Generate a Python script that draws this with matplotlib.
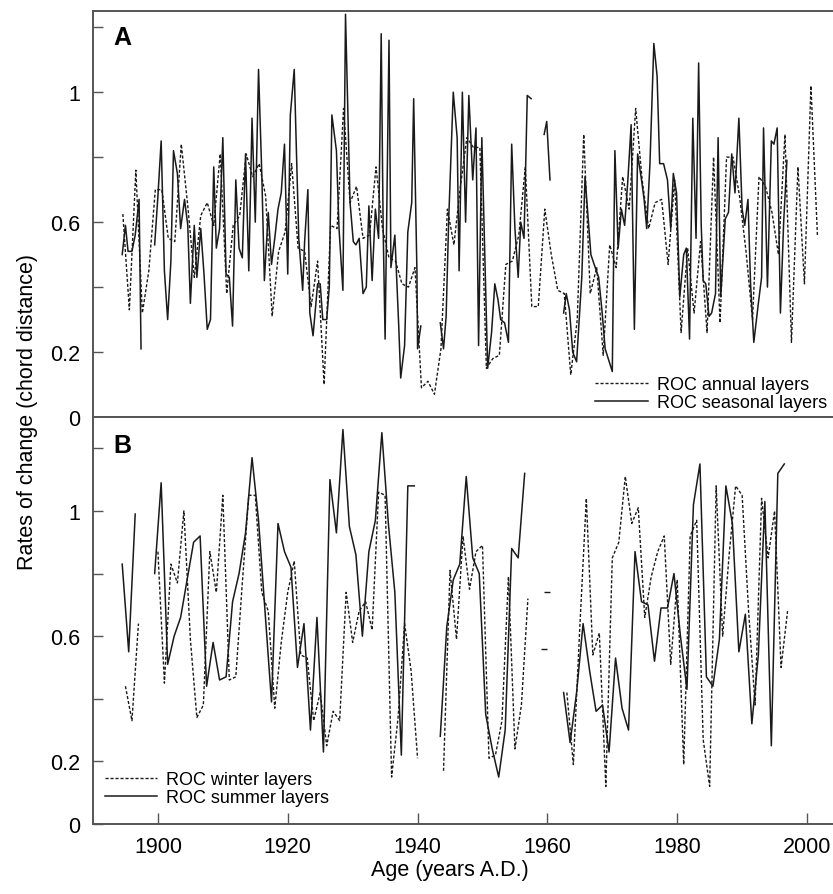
import numpy as np
import matplotlib
matplotlib.use('Agg')
import matplotlib.pyplot as plt

plt.rcParams['font.family'] = ['Liberation Sans', 'DejaVu Sans']

nan = np.nan

# Panel A - annual layers (one value per year, starting 1894.6)
annual_start = 1894.6
annual_a = [0.625, 0.33, 0.76, 0.32, 0.45, 0.70, 0.70, 0.55, 0.54, 0.84,
            0.65, 0.43, 0.62, 0.66, 0.59, 0.81, 0.38, 0.59, 0.62, 0.81,
            0.74, 0.78, 0.68, 0.31, 0.51, 0.57, 0.78, 0.52, 0.51, 0.34,
            0.48, 0.10, 0.59, 0.58, 0.95, 0.66, 0.71, 0.55, 0.56, 0.77,
            0.58, 0.49, 0.48, 0.41, 0.40, 0.46, 0.09, 0.11, 0.07, 0.21,
            0.64, 0.53, 0.71, 0.86, 0.83, 0.83, 0.15, 0.18, 0.19, 0.47,
            0.48, 0.56, 0.77, 0.34, 0.34, 0.64, 0.50, 0.39, 0.38, 0.13,
            0.30, 0.87, 0.38, 0.46, 0.19, 0.53, 0.46, 0.74, 0.64, 0.95,
            0.73, 0.58, 0.66, 0.67, 0.47, 0.73, 0.26, 0.52, 0.32, 0.54,
            0.26, 0.80, 0.29, 0.80, 0.80, 0.68, 0.51, 0.30, 0.74, 0.71,
            0.63, 0.50, 0.87, 0.23, 0.77, 0.41, 1.02, 0.56]

# Panel A - seasonal layers (read positions, nan = gap)
seasonal_a_x = [1894.5, 1895.0, 1895.4, 1896.0, 1896.5, 1897.1, 1897.4, 1898.5,
                1899.5, 1900.0, 1900.5, 1901.0, 1901.5, 1902.0, 1902.4, 1903.0, 1903.5, 1904.1,
                1904.6, 1905.0, 1905.6, 1906.0, 1906.6, 1907.1, 1907.6, 1908.1, 1908.6, 1909.0,
                1909.5, 1910.0, 1910.5, 1911.0, 1911.5, 1912.0, 1912.5, 1913.0, 1913.5, 1914.0,
                1914.5, 1915.0, 1915.5, 1916.0, 1916.4, 1917.0, 1917.5, 1918.0, 1918.5, 1919.0,
                1919.5, 1920.0, 1920.4, 1921.0, 1921.7, 1922.3, 1922.6, 1923.1, 1923.4, 1923.9,
                1924.6, 1925.0, 1925.4, 1926.0, 1926.4, 1926.8, 1927.5, 1927.9, 1928.5, 1928.9,
                1929.6, 1930.1, 1930.5, 1931.0, 1931.6, 1932.1, 1932.5, 1933.0, 1933.5, 1934.0,
                1934.4, 1934.7, 1935.0, 1935.6, 1935.9, 1936.5, 1937.1, 1937.4, 1938.0, 1938.5,
                1939.1, 1939.4, 1939.9, 1940.0, 1940.5, 1942.0,
                1943.5, 1944.0, 1944.4, 1944.8, 1945.5, 1946.1, 1946.4, 1946.9, 1947.4, 1947.9,
                1948.5, 1949.0, 1949.4, 1949.9, 1950.8, 1951.4, 1951.9, 1952.4, 1952.8, 1953.4,
                1954.0, 1954.5, 1955.0, 1955.5, 1955.9, 1956.4, 1956.9, 1957.5, 1958.5,
                1959.5, 1959.9, 1960.4, 1961.5,
                1962.5, 1962.9, 1963.4, 1963.9, 1964.5, 1965.3, 1965.8, 1966.7, 1967.2, 1967.9,
                1968.4, 1968.9, 1970.0, 1970.4, 1970.9, 1971.4, 1971.9, 1972.4, 1972.9, 1973.4,
                1973.9, 1974.5, 1974.9, 1975.3, 1975.8, 1976.4, 1976.9, 1977.3, 1977.9, 1978.5,
                1979.0, 1979.4, 1979.9, 1980.4, 1981.0, 1981.4, 1981.9, 1982.4, 1982.9, 1983.3,
                1983.7, 1984.0, 1984.4, 1984.9, 1985.3, 1985.9, 1986.3, 1986.7, 1987.4, 1987.9,
                1988.4, 1988.9, 1989.5, 1990.0, 1990.4, 1990.9, 1991.3, 1991.8, 1992.5, 1993.0,
                1993.3, 1993.9, 1994.5, 1994.9, 1995.4, 1995.9, 1996.4, 1996.9]
seasonal_a = [0.50, 0.59, 0.51, 0.51, 0.56, 0.67, 0.21, nan,
              0.53, 0.68, 0.85, 0.45, 0.30, 0.48, 0.82, 0.75, 0.58, 0.67,
              0.59, 0.35, 0.59, 0.43, 0.58, 0.44, 0.27, 0.30, 0.77, 0.52,
              0.58, 0.86, 0.44, 0.43, 0.28, 0.73, 0.52, 0.49, 0.81, 0.45,
              0.92, 0.60, 1.07, 0.75, 0.42, 0.63, 0.47, 0.55, 0.64, 0.69,
              0.84, 0.44, 0.93, 1.07, 0.55, 0.39, 0.54, 0.70, 0.32, 0.25,
              0.41, 0.41, 0.30, 0.30, 0.40, 0.93, 0.82, 0.58, 0.39, 1.24,
              0.66, 0.54, 0.53, 0.55, 0.38, 0.40, 0.65, 0.42, 0.64, 0.55,
              1.18, 0.58, 0.24, 1.16, 0.46, 0.56, 0.28, 0.12, 0.22, 0.57,
              0.66, 0.98, 0.45, 0.21, 0.28, nan,
              0.29, 0.21, 0.31, 0.61, 1.00, 0.86, 0.45, 1.00, 0.60, 0.99,
              0.73, 0.89, 0.22, 0.86, 0.15, 0.26, 0.41, 0.36, 0.30, 0.29,
              0.23, 0.84, 0.58, 0.43, 0.60, 0.55, 0.99, 0.98, nan,
              0.87, 0.91, 0.73, nan,
              0.32, 0.38, 0.33, 0.20, 0.17, 0.43, 0.74, 0.50, 0.47, 0.43,
              0.33, 0.21, 0.14, 0.82, 0.52, 0.64, 0.59, 0.73, 0.90, 0.27,
              0.81, 0.73, 0.67, 0.58, 0.78, 1.15, 1.05, 0.78, 0.78, 0.73,
              0.58, 0.75, 0.69, 0.37, 0.50, 0.52, 0.24, 0.92, 0.55, 1.09,
              0.59, 0.42, 0.41, 0.31, 0.32, 0.38, 0.86, 0.37, 0.61, 0.63,
              0.81, 0.69, 0.92, 0.64, 0.59, 0.67, 0.41, 0.23, 0.35, 0.43,
              0.89, 0.40, 0.85, 0.84, 0.89, 0.32, 0.60, 0.79]

# Panel B - winter layers (1895..1997) and summer layers (1894.5..1996.5)
winter_start = 1895.0
winter_b = [0.44, 0.33, 0.64, nan, nan, 0.87, 0.45, 0.83, 0.77, 1.00,
            0.59, 0.34, 0.38, 0.87, 0.74, 1.05, 0.46, 0.47, 0.77, 1.05,
            1.05, 0.74, 0.68, 0.37, 0.58, 0.74, 0.84, 0.54, 0.53, 0.33,
            0.42, 0.25, 0.36, 0.33, 0.74, 0.58, 0.68, 0.71, 0.62, 1.06,
            1.05, 0.15, 0.34, 0.64, 0.49, 0.21, nan, nan, nan, 0.17,
            0.81, 0.59, 0.92, 0.75, 0.87, 0.89, 0.21, 0.22, 0.33, 0.79,
            0.24, 0.38, 0.72, nan, nan, 0.74, nan, nan, 0.42, 0.19,
            0.63, 1.04, 0.54, 0.61, 0.12, 0.85, 0.90, 1.11, 0.96, 1.01,
            0.66, 0.79, 0.87, 0.92, 0.51, 0.78, 0.19, 0.92, 0.97, 0.27,
            0.12, 1.08, 0.60, 0.86, 1.08, 1.05, 0.68, 0.38, 1.04, 0.85,
            1.00, 0.50, 0.68]
summer_start = 1894.5
summer_b = [0.83, 0.55, 0.99, nan, nan, 0.80, 1.09, 0.51, 0.60, 0.66,
            0.78, 0.90, 0.92, 0.44, 0.58, 0.46, 0.47, 0.71, 0.80, 0.93,
            1.17, 0.97, 0.68, 0.39, 0.96, 0.87, 0.82, 0.50, 0.64, 0.30,
            0.66, 0.23, 1.10, 0.93, 1.26, 0.95, 0.86, 0.60, 0.87, 0.97,
            1.25, 0.96, 0.74, 0.22, 1.08, 1.08, nan, nan, nan, 0.28,
            0.63, 0.78, 0.83, 1.11, 0.85, 0.80, 0.35, 0.24, 0.15, 0.30,
            0.88, 0.85, 1.12, nan, nan, 0.56, nan, nan, 0.42, 0.26,
            0.42, 0.64, 0.49, 0.36, 0.38, 0.23, 0.53, 0.37, 0.30, 0.87,
            0.71, 0.70, 0.52, 0.69, 0.69, 0.80, 0.60, 0.43, 1.02, 1.15,
            0.47, 0.44, 0.59, 1.08, 0.96, 0.55, 0.67, 0.32, 0.54, 1.03,
            0.25, 1.12, 1.15]

y_ticks = [0, 0.2, 0.4, 0.6, 0.8, 1.0, 1.2]
y_ticklabels = ['0', '0.2', '', '0.6', '', '1', '']
x_ticks = [1900, 1920, 1940, 1960, 1980, 2000]

LINE = '#1a1a1a'
SPINE = '#555555'
DASH = (0, (2.2, 1.4))


def draw_series(ax, x, y, ls, lw, label):
    x = np.asarray(x, dtype=float)
    y = np.asarray(y, dtype=float)
    ax.plot(x, y, color=LINE, linestyle=ls, linewidth=lw, label=label)
    # single points between gaps get a tiny tick so they stay visible
    ok = np.isfinite(y)
    prev_ok = np.r_[False, ok[:-1]]
    next_ok = np.r_[ok[1:], False]
    lone = ok & ~prev_ok & ~next_ok
    if lone.any():
        ax.plot(x[lone], y[lone], linestyle='none', marker='_',
                markersize=4, color=LINE, markeredgewidth=1.0)


def style_axis(ax, ymax):
    ax.set_xlim(1890, 2004)
    ax.set_ylim(0, ymax)
    ax.set_yticks(y_ticks)
    ax.set_yticklabels(y_ticklabels)
    ax.tick_params(axis='y', direction='in', length=7, width=1, color=SPINE,
                   labelsize=15.5, pad=9)
    ax.spines['right'].set_visible(False)
    for s in ['left', 'top', 'bottom']:
        ax.spines[s].set_color(SPINE)
        ax.spines[s].set_linewidth(1.4)


fig = plt.figure(figsize=(8.33, 8.95), dpi=100)
ax_a = fig.add_axes([93 / 833, 1 - 418 / 895, 1 - 93 / 833, 406 / 895])
ax_b = fig.add_axes([93 / 833, 1 - 825 / 895, 1 - 93 / 833, 407 / 895], sharex=ax_a)

# ---- panel A
annual_x = annual_start + np.arange(len(annual_a))
draw_series(ax_a, annual_x, annual_a, DASH, 1.0, 'ROC annual layers')
draw_series(ax_a, seasonal_a_x, seasonal_a, '-', 1.1, 'ROC seasonal layers')
style_axis(ax_a, 1.25)
ax_a.tick_params(axis='x', bottom=False, labelbottom=False)
ax_a.text(0.027, 0.965, 'A', transform=ax_a.transAxes, fontsize=18,
          fontweight='bold', va='top', ha='left')
ax_a.legend(loc='lower right', bbox_to_anchor=(1 - 6 / 740, 6 / 406),
            frameon=False, fontsize=13, handlelength=2.9, handletextpad=0.5,
            labelspacing=0.05, borderpad=0, borderaxespad=0)

# ---- panel B
winter_x = winter_start + np.arange(len(winter_b))
summer_x = summer_start + np.arange(len(summer_b))
draw_series(ax_b, winter_x, winter_b, DASH, 1.0, 'ROC winter layers')
draw_series(ax_b, summer_x, summer_b, '-', 1.1, 'ROC summer layers')
style_axis(ax_b, 1.30)
ax_b.set_xticks(x_ticks)
ax_b.tick_params(axis='x', direction='in', length=8, width=1, color=SPINE,
                 labelsize=15.5, pad=9)
ax_b.text(0.027, 0.96, 'B', transform=ax_b.transAxes, fontsize=18,
          fontweight='bold', va='top', ha='left')
ax_b.legend(loc='lower left', bbox_to_anchor=(12 / 740, 18 / 407),
            frameon=False, fontsize=13, handlelength=2.9, handletextpad=0.5,
            labelspacing=0.05, borderpad=0, borderaxespad=0)

fig.text(28 / 833, 1 - 412 / 895, 'Rates of change (chord distance)',
         rotation=90, ha='center', va='center', fontsize=15.5)
fig.text(450 / 833, 1 - 871 / 895, 'Age (years A.D.)',
         ha='center', va='center', fontsize=15.5)

fig.savefig('out.png', dpi=100)
